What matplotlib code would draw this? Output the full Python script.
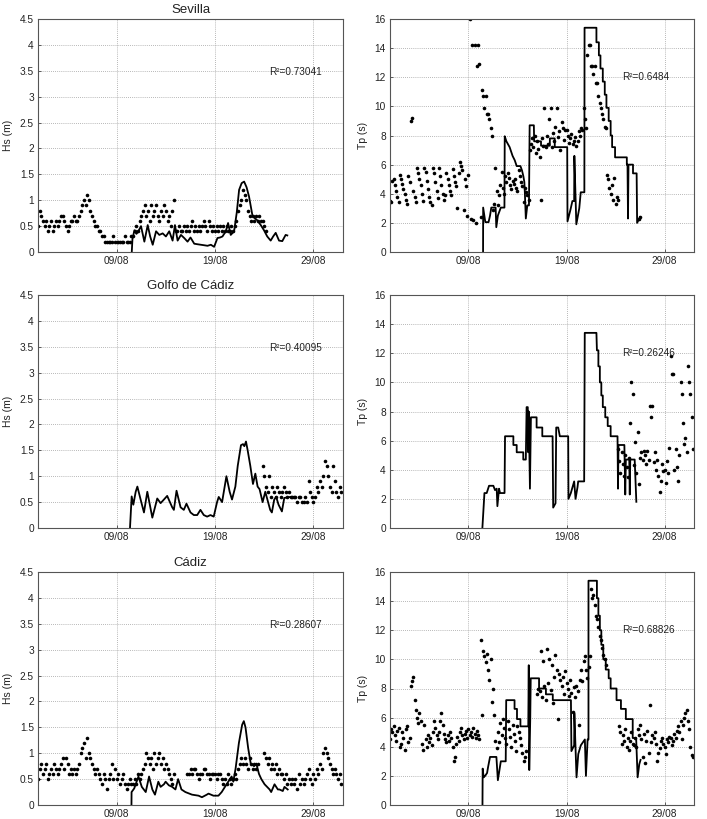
import numpy as np
import matplotlib
matplotlib.use("Agg")
import matplotlib.pyplot as plt

plt.rcParams['font.family'] = ['Liberation Sans', 'DejaVu Sans']

nan = np.nan

# ---------------- labels ----------------
station_titles = ["Sevilla", "Golfo de Cádiz", "Cádiz"]
hs_label = "Hs (m)"
tp_label = "Tp (s)"
date_ticks = [9, 19, 29]
date_labels = ["09/08", "19/08", "29/08"]
hs_ticks = [0, 0.5, 1, 1.5, 2, 2.5, 3, 3.5, 4, 4.5]
hs_tick_labels = ["0", "0.5", "1", "1.5", "2", "2.5", "3", "3.5", "4", "4.5"]
tp_ticks = [0, 2, 4, 6, 8, 10, 12, 14, 16]
tp_tick_labels = ["0", "2", "4", "6", "8", "10", "12", "14", "16"]
r2_hs = ["R²=0.73041", "R²=0.40095", "R²=0.28607"]
r2_tp = ["R²=0.6484", "R²=0.26246", "R²=0.68826"]

# ---------------- Sevilla ----------------
# observed Hs, one row per day (day 1 onward), 6 samples per day
sev_hs_obs = [
    [0.5, 0.8, 0.7, 0.6, 0.5, 0.6],
    [0.4, 0.5, 0.6, 0.4, 0.5, 0.6],
    [0.5, 0.6, 0.7, 0.7, 0.6, 0.5],
    [0.4, 0.5, 0.6, 0.6, 0.7, 0.6],
    [0.6, 0.7, 0.8, 0.9, 1.0, 0.9],
    [1.1, 1.0, 0.8, 0.7, 0.6, 0.5],
    [0.5, 0.4, 0.4, 0.3, 0.3, 0.2],
    [0.2, 0.2, 0.2, 0.2, 0.3, 0.2],
    [0.2, 0.2, 0.2, 0.2, 0.2, 0.3],
    [0.2, 0.2, 0.2, 0.3, 0.3, 0.4],
    [0.5, 0.4, 0.6, 0.7, 0.8, 0.9],
    [0.7, 0.8, 0.6, 0.9, 0.7, 0.8],
    [0.9, 0.7, 0.6, 0.8, 0.7, 0.9],
    [0.8, 0.6, 0.7, 0.5, 0.8, 1.0],
    [0.4, 0.4, 0.5, 0.4, 0.4, 0.5],
    [0.4, 0.5, 0.4, 0.5, 0.6, 0.4],
    [0.5, 0.4, 0.5, 0.4, 0.5, 0.6],
    [0.5, 0.4, 0.6, 0.5, 0.4, 0.5],
    [0.4, 0.5, 0.4, 0.5, 0.4, 0.5],
    [0.4, 0.5, 0.4, 0.4, 0.5, 0.4],
    [0.5, 0.6, 0.8, 0.9, 1.0, 1.2],
    [1.1, 1.0, 0.8, 0.7, 0.6, 0.7],
    [0.6, 0.7, 0.6, 0.7, 0.6, 0.6],
    [0.5, 0.4],
]
sev_hs_model_day = [10.53, 10.6, 10.8, 11.0, 11.14, 11.47, 11.81, 12.15, 12.4, 12.66,
                    13.0, 13.33, 13.67, 14.0, 14.34, 14.68, 14.92, 15.19, 15.53, 15.86,
                    16.2, 16.5, 16.88, 17.2, 17.55, 17.9, 18.23, 18.57, 18.9, 19.24,
                    19.5, 19.75, 20.09, 20.32, 20.59, 20.93, 21.2, 21.44, 21.7, 21.95,
                    22.2, 22.45, 22.79, 23.05, 23.3, 23.64, 23.97, 24.3, 24.65, 24.9,
                    25.16, 25.5, 25.83, 26.17, 26.34]
sev_hs_model = [0.0, 0.25, 0.42, 0.35, 0.38, 0.5, 0.2, 0.52, 0.3, 0.14,
                0.4, 0.33, 0.36, 0.3, 0.4, 0.22, 0.52, 0.22, 0.33, 0.27,
                0.2, 0.28, 0.16, 0.15, 0.14, 0.13, 0.12, 0.14, 0.1, 0.27,
                0.28, 0.3, 0.4, 0.56, 0.33, 0.4, 0.76, 1.2, 1.33, 1.36,
                1.25, 1.07, 0.71, 0.65, 0.61, 0.52, 0.42, 0.3, 0.22, 0.3,
                0.37, 0.22, 0.21, 0.33, 0.32]

# observed Tp, one row per day (day 1 onward), 8 samples per day
sev_tp_obs = [
    [3.5, 3.4, 4.9, 5.0, 4.6, 4.2, 3.8, 3.4],
    [5.3, 5.0, 4.7, 4.3, 4.0, 3.6, 3.3, 5.2],
    [4.8, 9.0, 9.2, 4.2, 3.8, 3.4, 5.8, 5.4],
    [5.0, 4.6, 4.0, 3.5, 5.8, 5.5, 4.9, 4.3],
    [3.8, 3.4, 3.2, 5.8, 5.4, 4.8, 4.2, 3.7],
    [5.8, 5.2, 4.6, 4.0, 3.6, 3.9, 5.4, 5.0],
    [4.6, 4.2, 3.9, 5.7, 5.2, 4.8, 4.5, 3.0],
    [5.4, 6.2, 5.9, 5.6, 2.9, 5.0, 4.5, 2.5],
    [5.3, 16.0, 2.3, 14.2, 2.2, 14.2, 2.0, 12.8],
    [14.2, 12.9, 2.4, 11.1, 10.7, 9.9, 10.7, 9.5],
    [9.5, 9.1, 8.5, 8.0, 2.9, 3.3, 5.8, 4.2],
    [3.2, 3.9, 4.6, 5.5, 4.4, 4.0, 5.2, 4.8],
    [5.4, 5.1, 4.6, 4.3, 4.9, 4.7, 5.0, 4.4],
    [4.2, 5.6, 5.2, 4.8, 4.5, 3.4, 4.4, 4.1],
    [3.9, 3.6, 7.0, 7.4, 7.8, 7.2, 8.0, 6.8],
    [7.6, 7.1, 6.5, 3.6, 7.8, 7.3, 9.9, 7.2],
    [8.0, 7.4, 9.1, 9.9, 7.2, 8.2, 7.6, 8.6],
    [9.9, 7.9, 8.3, 7.0, 8.9, 8.5, 7.7, 8.4],
    [8.4, 8.0, 7.5, 7.8, 8.1, 7.4, 7.6, 7.9],
    [7.3, 7.6, 8.3, 8.0, 8.5, 8.4, 9.9, 9.1],
    [8.5, 13.5, 14.2, 14.2, 12.8, 12.8, 12.2, 12.8],
    [11.6, 11.6, 10.7, 10.2, 9.9, 9.5, 9.1, 8.6],
    [8.5, 5.3, 5.0, 4.4, 4.0, 4.6, 3.6, 5.1],
    [3.3, 3.8, 3.6, nan, nan, nan, nan, nan],
    [nan, nan, nan, nan, nan, nan, nan, nan],
    [nan, nan, nan, 2.3, 2.4, nan, nan, nan],
]
sev_tp_model_day = [10.49, 10.5, 10.72, 11.05, 11.2, 11.33, 11.77, 11.84, 12.0, 12.3,
                    12.67, 12.7, 12.87, 13.2, 13.5, 13.72, 13.92, 14.3, 14.46, 14.6,
                    14.7, 14.75, 14.85, 15.0, 15.17, 15.24, 15.67, 15.7, 16.4, 16.4,
                    17.3, 17.3, 17.8, 17.8, 19.07, 19.1, 19.4, 19.6, 19.78, 19.8,
                    20.0, 20.3, 20.45, 20.82, 20.84, 22.05, 22.05, 22.3, 22.3, 22.46,
                    22.46, 22.7, 22.7, 22.9, 22.9, 23.07, 23.07, 23.3, 23.3, 23.5,
                    23.5, 23.65, 23.65, 23.95, 23.95, 25.15, 25.15, 25.22, 25.27, 25.32,
                    25.78, 25.78, 26.15, 26.2, 26.5]
sev_tp_model = [0.0, 3.05, 2.05, 2.05, 2.5, 3.05, 3.05, 1.7, 2.5, 3.05,
                3.05, 7.95, 7.6, 7.2, 6.6, 6.3, 5.9, 5.9, 5.6, 5.2,
                4.8, 4.1, 2.3, 3.2, 3.2, 8.7, 8.7, 7.6, 7.6, 7.3,
                7.3, 7.8, 7.8, 7.2, 7.2, 2.1, 2.9, 3.5, 3.5, 6.6,
                1.9, 3.0, 4.1, 4.1, 15.4, 15.4, 14.4, 14.4, 13.5, 13.5,
                12.6, 12.6, 11.7, 11.7, 10.8, 10.8, 9.9, 9.9, 9.0, 9.0,
                8.0, 8.0, 7.2, 7.2, 6.5, 6.5, 6.0, 6.0, 2.3, 6.0,
                6.0, 5.4, 5.4, 2.0, 2.4]

# ---------------- Golfo de Cadiz ----------------
# observed Hs, rows per day starting day 23, 6 samples per day
golfo_hs_obs = [
    [nan, nan, nan, nan, nan, 1.2],
    [1.0, 0.8, 0.7, 1.0, 0.6, 0.8],
    [0.7, 0.6, 0.8, 0.7, 0.6, 0.7],
    [0.8, 0.7, 0.6, 0.7, 0.6, 0.6],
    [0.6, 0.6, 0.5, 0.6, 0.6, 0.5],
    [0.5, 0.6, 0.5, 0.9, 0.7, 0.6],
    [0.5, 0.6, 0.8, 0.7, 0.9, 0.8],
    [1.0, 1.3, 1.2, 1.0, 0.8, 0.7],
    [1.2, 0.9, 0.7, 0.6, 0.8, 0.7],
]
golfo_hs_model_day = [10.35, 10.52, 10.69, 10.93, 11.1, 11.43, 11.77, 12.11, 12.62, 13.12,
                      13.46, 13.8, 14.13, 14.64, 14.81, 15.08, 15.49, 15.82, 16.09, 16.5,
                      16.84, 17.18, 17.51, 17.85, 18.19, 18.53, 18.86, 19.2, 19.37, 19.71,
                      20.15, 20.48, 20.72, 21.06, 21.3, 21.63, 21.84, 21.97, 22.14, 22.31,
                      22.58, 22.85, 23.09, 23.32, 23.52, 23.83, 24.1, 24.6, 24.77, 25.01,
                      25.21, 25.45, 25.79, 26.03, 26.63, 27.14]
golfo_hs_model = [0.0, 0.61, 0.45, 0.7, 0.8, 0.55, 0.3, 0.7, 0.2, 0.57,
                  0.48, 0.55, 0.62, 0.4, 0.35, 0.72, 0.4, 0.35, 0.47, 0.3,
                  0.25, 0.25, 0.35, 0.25, 0.22, 0.25, 0.22, 0.5, 0.6, 0.5,
                  1.0, 0.7, 0.55, 0.8, 1.2, 1.6, 1.62, 1.58, 1.67, 1.5,
                  1.2, 0.85, 1.05, 0.8, 0.75, 0.5, 0.7, 0.35, 0.3, 0.55,
                  0.6, 0.45, 0.32, 0.58, 0.6, 0.6]
# observed Tp, rows per day starting day 24, 8 samples per day
golfo_tp_obs = [
    [nan, nan, 5.4, 4.6, 3.8, 5.2, 4.4, 3.6],
    [5.0, 4.2, 3.5, 4.8, 7.2, 10.0, 9.2, 4.3],
    [5.9, 3.8, 6.6, 3.0, 4.8, 5.2, 4.7, 5.3],
    [5.0, 4.4, 5.3, 4.7, 8.4, 7.6, 8.4, 4.5],
    [5.2, 4.0, 4.7, 3.6, 2.5, 3.2, 4.4, 3.9],
    [4.0, 3.1, 4.6, 3.8, 5.5, 11.8, 10.6, 10.6],
    [4.0, 5.4, 4.2, 3.2, 5.0, 10.0, 9.2, 7.2],
    [5.8, 6.2, 5.2, 11.1, 10.0, 9.2, 7.6, 5.4],
]
golfo_tp_model_day = [10.42, 10.63, 10.86, 11.1, 11.54, 11.71, 11.88, 11.95, 12.12, 12.22,
                      12.68, 12.73, 13.58, 13.58, 13.92, 13.92, 14.59, 14.59, 14.85, 14.93,
                      15.05, 15.1, 15.15, 15.27, 15.37, 15.95, 15.95, 16.53, 16.53, 17.58,
                      17.64, 17.88, 17.95, 18.15, 18.32, 19.17, 19.2, 19.44, 19.78, 19.92,
                      20.12, 20.19, 20.8, 20.86, 22.05, 22.1, 22.25, 22.25, 22.4, 22.4,
                      22.55, 22.55, 22.7, 22.7, 22.95, 22.95, 23.2, 23.2, 23.5, 23.5,
                      24.2, 24.25, 24.3, 24.9, 24.99, 25.05, 25.4, 25.45, 25.5, 25.95,
                      26.12]
golfo_tp_model = [0.0, 2.4, 2.4, 2.9, 2.9, 2.6, 2.7, 1.5, 2.7, 2.4,
                  2.4, 6.3, 6.3, 5.7, 5.7, 5.2, 5.2, 4.7, 4.7, 8.3,
                  8.3, 5.2, 8.0, 2.7, 7.6, 7.6, 6.9, 6.9, 6.3, 6.3,
                  1.4, 1.7, 6.9, 6.9, 6.3, 6.3, 2.0, 2.4, 3.2, 2.0,
                  2.8, 3.2, 3.2, 13.4, 13.4, 12.2, 12.2, 11.1, 11.1, 10.0,
                  10.0, 9.1, 9.1, 8.3, 8.3, 7.6, 7.6, 7.0, 7.0, 6.3,
                  6.3, 2.7, 5.7, 5.7, 2.3, 4.7, 4.7, 2.3, 4.7, 4.7,
                  1.8]

# ---------------- Cadiz ----------------
cad_hs_obs = [
    [0.5, 0.7, 0.8, 0.6, 0.7, 0.8],
    [0.5, 0.6, 0.7, 0.6, 0.8, 0.7],
    [0.6, 0.7, 0.8, 0.9, 0.7, 0.9],
    [0.8, 0.6, 0.7, 0.6, 0.7, 0.6],
    [0.7, 0.8, 1.0, 1.1, 1.2, 0.9],
    [1.3, 1.0, 0.9, 0.8, 0.7, 0.6],
    [0.7, 0.6, 0.5, 0.4, 0.6, 0.5],
    [0.3, 0.5, 0.6, 0.8, 0.5, 0.7],
    [0.5, 0.6, 0.4, 0.5, 0.6, 0.4],
    [0.3, 0.4, 0.5, 0.4, 0.4, 0.5],
    [0.4, 0.6, 0.5, 0.6, 0.7, 0.8],
    [1.0, 0.9, 0.8, 0.9, 0.7, 1.0],
    [0.8, 0.9, 1.0, 0.8, 0.9, 0.7],
    [0.8, 0.7, 0.6, 0.5, 0.4, 0.6],
    [nan, nan, nan, nan, nan, nan],
    [nan, 0.6, 0.6, 0.7, 0.6, 0.7],
    [0.7, 0.6, 0.5, 0.6, 0.6, 0.7],
    [0.7, 0.6, 0.6, 0.5, 0.6, 0.6],
    [0.6, 0.5, 0.6, 0.6, 0.5, 0.4],
    [0.5, 0.4, 0.6, 0.5, 0.4, 0.5],
    [0.6, 0.5, 0.7, 0.8, 0.9, 0.8],
    [0.9, 0.8, 0.7, 0.9, 0.8, 0.7],
    [0.8, 0.7, 0.8, nan, nan, nan],
    [1.0, 0.9, 0.8, 0.9, 0.7, 0.8],
    [0.7, 0.8, 0.6, 0.7, 0.6, 0.6],
    [0.5, 0.6, 0.4, 0.5, 0.4, 0.5],
    [0.4, 0.5, 0.3, 0.6, 0.4, 0.5],
    [0.4, 0.5, 0.6, 0.7, 0.5, 0.4],
    [0.6, 0.5, 0.7, 0.6, 0.8, 0.7],
    [1.0, 1.1, 1.0, 0.9, 0.8, 0.7],
    [0.6, 0.7, 0.6, 0.5, 0.6, 0.4],
]
cad_hs_model_day = [10.5, 10.51, 10.78, 11.21, 11.55, 11.95, 12.29, 12.62, 12.89, 13.23,
                    13.46, 13.8, 13.97, 14.3, 14.64, 14.97, 15.24, 15.58, 15.98, 16.65,
                    17.32, 17.66, 18.16, 18.33, 18.83, 19.34, 19.67, 20.0, 20.34, 20.68,
                    20.85, 21.08, 21.42, 21.75, 21.92, 22.09, 22.36, 22.62, 22.96, 23.19,
                    23.46, 23.7, 24.03, 24.54, 24.7, 25.04, 25.38, 25.54, 25.88, 26.05,
                    26.38]
cad_hs_model = [0.0, 0.25, 0.32, 0.55, 0.35, 0.25, 0.55, 0.3, 0.2, 0.45,
                0.35, 0.4, 0.45, 0.38, 0.35, 0.3, 0.5, 0.3, 0.25, 0.2,
                0.18, 0.15, 0.2, 0.22, 0.18, 0.18, 0.25, 0.35, 0.45, 0.55,
                0.45, 0.7, 1.2, 1.55, 1.62, 1.5, 1.1, 0.8, 0.75, 0.8,
                0.6, 0.5, 0.4, 0.3, 0.25, 0.4, 0.3, 0.3, 0.27, 0.35,
                0.3]
cad_tp_obs = [
    [4.5, 5.2, 5.0, 5.4, 4.8, 4.4, 5.1, 5.3],
    [4.0, 4.2, 5.0, 4.6, 3.8, 5.2, 5.4, 4.3],
    [4.6, 8.2, 8.5, 8.8, 7.2, 6.5, 6.0, 5.6],
    [6.3, 5.8, 4.2, 3.8, 5.5, 4.5, 4.0, 4.8],
    [4.3, 4.6, 4.1, 5.0, 5.8, 5.3, 4.8, 4.5],
    [5.0, 5.8, 6.3, 5.5, 4.9, 4.5, 4.3, 4.8],
    [4.4, 5.0, 4.6, 4.0, 3.0, 3.3, 4.2, 4.7],
    [4.4, 5.0, 5.3, 4.8, 4.5, 4.9, 5.1, 4.6],
    [5.2, 4.8, 5.0, 4.7, 5.3, 4.9, 4.6, 5.1],
    [4.8, 4.5, 11.3, 6.2, 10.6, 10.2, 9.8, 10.4],
    [9.3, 8.6, 10.0, 7.1, 8.0, 6.2, 4.4, 3.9],
    [5.0, 4.3, 5.6, 4.8, 5.9, 5.3, 4.6, 4.2],
    [5.8, 5.2, 4.7, 4.0, 5.5, 4.9, 4.4, 3.7],
    [5.4, 5.0, 4.6, 4.1, 3.6, 3.0, 3.3, 3.7],
    [nan, nan, nan, nan, nan, nan, nan, nan],
    [7.6, 8.0, 7.8, 10.6, 7.4, 9.9, 8.2, 7.2],
    [10.7, 8.4, 10.0, 7.9, 9.6, 7.0, 8.8, 10.3],
    [9.3, 5.9, 9.0, 8.6, 8.2, 8.8, 7.6, 9.2],
    [8.4, 8.0, 7.5, 8.6, 7.7, 6.4, 8.1, 7.4],
    [8.2, 7.8, 5.5, 8.6, 9.3, 8.5, 9.9, 10.2],
    [9.3, 8.7, 9.5, 10.2, 14.8, 14.2, 14.4, 13.7],
    [13.0, 12.8, 12.2, 11.6, 11.3, 10.8, 10.3, 10.0],
    [9.6, nan, nan, nan, nan, nan, nan, nan],
    [nan, nan, nan, 5.4, 5.0, 4.2, 4.8, 4.4],
    [5.2, 4.0, 4.6, 3.8, 4.4, 5.0, 4.2, 4.1],
    [4.6, 4.0, 5.2, 4.8, 5.5, 4.5, 3.3, 4.9],
    [2.9, 4.4, 5.1, 3.6, 6.9, 4.3, 4.8, 4.6],
    [5.0, 4.2, 3.0, 3.6, 3.9, 4.4, 4.6, 4.2],
    [4.0, 3.5, 4.5, 4.3, 4.7, 4.6, 4.1, 4.4],
    [4.9, 4.6, 5.1, 5.4, 5.0, 5.8, 4.5, 5.5],
    [6.0, 6.3, 6.5, 5.8, 5.2, 4.0, 3.4, 3.3],
]
cad_tp_model_day = [10.43, 10.45, 10.55, 10.7, 10.9, 11.0, 11.2, 11.85, 12.0, 12.3,
                    12.8, 12.85, 13.7, 13.7, 13.95, 13.95, 14.3, 14.3, 15.1, 15.15,
                    15.2, 15.3, 15.35, 16.2, 16.2, 16.9, 16.9, 17.6, 17.6, 19.45,
                    19.5, 19.78, 19.8, 20.02, 20.2, 20.46, 20.87, 20.98, 21.15, 21.24,
                    21.24, 22.1, 22.1, 22.25, 22.25, 22.4, 22.4, 22.55, 22.55, 22.75,
                    22.75, 23.0, 23.0, 23.3, 23.3, 23.5, 23.5, 24.1, 24.1, 24.55,
                    24.55, 25.05, 25.05, 25.75, 25.75, 26.1, 26.25, 26.42, 26.55]
cad_tp_model = [0.0, 2.5, 1.9, 2.0, 2.2, 2.6, 3.3, 3.3, 1.7, 3.0,
                3.0, 7.2, 7.2, 6.6, 6.6, 5.9, 5.9, 5.4, 5.4, 9.6,
                2.4, 5.9, 8.7, 8.7, 8.0, 8.0, 7.6, 7.6, 7.2, 7.2,
                3.7, 4.1, 6.3, 1.9, 3.5, 4.1, 4.5, 2.0, 4.5, 4.5,
                15.4, 15.4, 14.2, 14.2, 13.0, 13.0, 12.0, 12.0, 11.0, 11.0,
                10.0, 10.0, 9.3, 9.3, 8.7, 8.7, 8.0, 8.0, 7.2, 7.2,
                6.6, 6.6, 5.9, 5.9, 4.6, 4.6, 1.9, 2.8, 3.1]


def obs_points(start_day, per_day, rows):
    xs, ys = [], []
    for i, row in enumerate(rows):
        for k, v in enumerate(row):
            xs.append(start_day + i + k / per_day)
            ys.append(v)
    return np.array(xs), np.array(ys, dtype=float)


panels = [
    (sev_hs_obs, 1, sev_hs_model_day, sev_hs_model, sev_tp_obs, 1, sev_tp_model_day, sev_tp_model),
    (golfo_hs_obs, 23, golfo_hs_model_day, golfo_hs_model, golfo_tp_obs, 24, golfo_tp_model_day, golfo_tp_model),
    (cad_hs_obs, 1, cad_hs_model_day, cad_hs_model, cad_tp_obs, 1, cad_tp_model_day, cad_tp_model),
]

W, H = 707, 819
fig = plt.figure(figsize=(W / 100, H / 100), dpi=100)

col_left = [38, 390]
col_width = [305, 304]
row_top = [19, 295, 572]
row_h = 233

TXT = '#222222'


def style_axes(ax, ticks, ticklabels, ylim, ylabel):
    ax.set_xlim(1, 32)
    ax.set_ylim(*ylim)
    ax.set_xticks(date_ticks)
    ax.set_xticklabels(date_labels)
    ax.set_yticks(ticks)
    ax.set_yticklabels(ticklabels)
    ax.grid(True, color='#a0a0a0', linestyle=(0, (1, 1.5)), linewidth=0.6)
    ax.set_axisbelow(True)
    ax.tick_params(direction='in', length=2, width=0.6, labelsize=7.3,
                   colors='#444444', labelcolor=TXT, pad=3)
    for s in ax.spines.values():
        s.set_color('#555555')
        s.set_linewidth(0.8)
    ax.set_ylabel(ylabel, fontsize=7.5, color=TXT, labelpad=5)


for r, (hs_obs, hs_start, hs_md, hs_m, tp_obs, tp_start, tp_md, tp_m) in enumerate(panels):
    bottom = 1 - (row_top[r] + row_h) / H
    # Hs panel
    ax = fig.add_axes([col_left[0] / W, bottom, col_width[0] / W, row_h / H])
    x, y = obs_points(hs_start, 6, hs_obs)
    ax.plot(x, y, 'o', color='black', ms=2.6, mec='none')
    ax.plot(hs_md, hs_m, color='black', lw=1.3)
    style_axes(ax, hs_ticks, hs_tick_labels, (0, 4.5), hs_label)
    ax.set_title(station_titles[r], fontsize=9.5, color=TXT, pad=4)
    ax.text(24.5, 3.47, r2_hs[r], fontsize=7.2, color=TXT, va='center', ha='left')

    # Tp panel
    ax2 = fig.add_axes([col_left[1] / W, bottom, col_width[1] / W, row_h / H])
    x, y = obs_points(tp_start, 8, tp_obs)
    ax2.plot(x, y, 'o', color='black', ms=2.6, mec='none')
    ax2.plot(tp_md, tp_m, color='black', lw=1.3)
    style_axes(ax2, tp_ticks, tp_tick_labels, (0, 16), tp_label)
    ax2.text(24.7, 12.0, r2_tp[r], fontsize=7.2, color=TXT, va='center', ha='left')

fig.savefig('out.png', dpi=100, facecolor='white')
